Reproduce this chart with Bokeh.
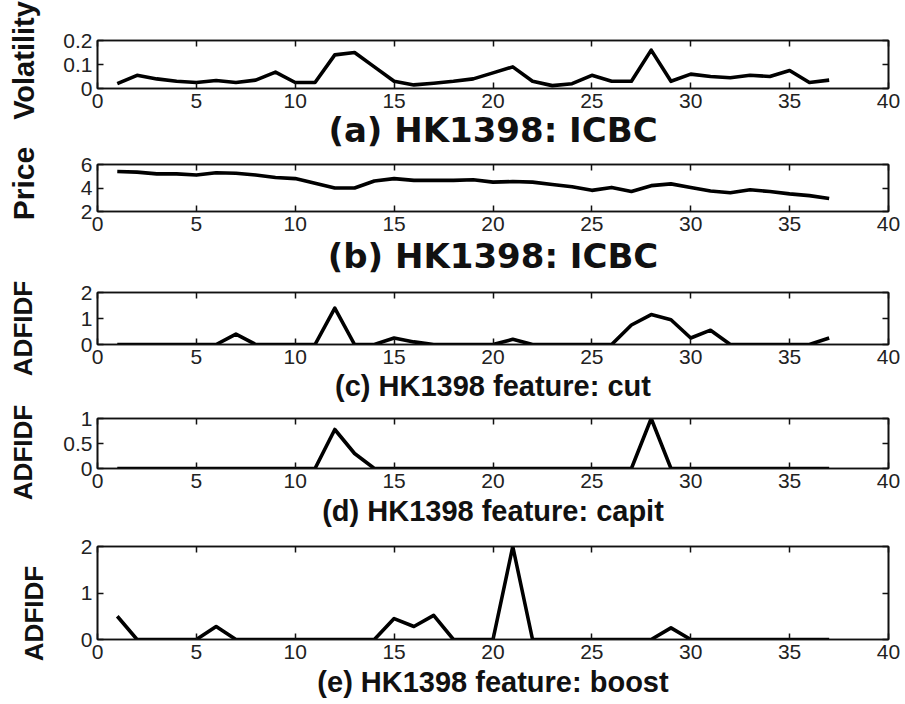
import math
from bokeh.plotting import figure
from bokeh.layouts import column, row
from bokeh.models import Range1d, FixedTicker, LinearAxis, ColumnDataSource
from bokeh.core.properties import value
from bokeh.embed import file_html
from bokeh.resources import INLINE

# ---------------- data ----------------
days = list(range(1, 38))
volatility = [0.02, 0.055, 0.04, 0.03, 0.025, 0.033, 0.025, 0.035, 0.068, 0.025,
              0.025, 0.14, 0.15, 0.09, 0.03, 0.015, 0.022, 0.03, 0.04, 0.065,
              0.09, 0.03, 0.012, 0.02, 0.055, 0.03, 0.03, 0.16, 0.03, 0.06,
              0.05, 0.045, 0.055, 0.05, 0.075, 0.025, 0.035]
price = [5.4, 5.35, 5.2, 5.2, 5.1, 5.3, 5.25, 5.1, 4.9, 4.8,
         4.4, 4.0, 4.0, 4.6, 4.8, 4.65, 4.65, 4.65, 4.7, 4.5,
         4.55, 4.5, 4.3, 4.1, 3.8, 4.05, 3.7, 4.2, 4.35, 4.05,
         3.75, 3.6, 3.85, 3.7, 3.5, 3.35, 3.1]
cut = [0, 0, 0, 0, 0, 0, 0.4, 0, 0, 0,
       0, 1.4, 0, 0, 0.25, 0.1, 0, 0, 0, 0,
       0.2, 0, 0, 0, 0, 0, 0.75, 1.15, 0.95, 0.25,
       0.55, 0, 0, 0, 0, 0, 0.25]
capit = [0, 0, 0, 0, 0, 0, 0, 0, 0, 0,
         0, 0.78, 0.3, 0, 0, 0, 0, 0, 0, 0,
         0, 0, 0, 0, 0, 0, 0, 1.0, 0, 0,
         0, 0, 0, 0, 0, 0, 0]
boost = [0.5, 0, 0, 0, 0, 0.28, 0, 0, 0, 0,
         0, 0, 0, 0, 0.45, 0.28, 0.52, 0, 0, 0,
         2.0, 0, 0, 0, 0, 0, 0, 0, 0.25, 0,
         0, 0, 0, 0, 0, 0, 0]

x_ticks = [0, 5, 10, 15, 20, 25, 30, 35, 40]

vol_ticks = [0, 0.1, 0.2]
vol_tick_labels = ["0", "0.1", "0.2"]
price_ticks = [2, 4, 6]
price_tick_labels = ["2", "4", "6"]
adf2_ticks = [0, 1, 2]
adf2_tick_labels = ["0", "1", "2"]
adf1_ticks = [0, 0.5, 1]
adf1_tick_labels = ["0", "0.5", "1"]

titles = ["(a) HK1398: ICBC", "(b) HK1398: ICBC", "(c) HK1398 feature: cut",
          "(d) HK1398 feature: capit", "(e) HK1398 feature: boost"]
ylabels = ["Volatility", "Price", "ADFIDF", "ADFIDF", "ADFIDF"]

# ---------------- layout / style ----------------
W, H = 905, 704
LABEL_COL = 50          # width of the column holding the rotated y labels
LEFT = 97 - LABEL_COL   # left border of each panel
RIGHT = 17
LIB = "'Liberation Sans', Arial, sans-serif"
DEJAVU = "'DejaVu Sans', sans-serif"
INK = "#111111"


def panel(yvals, yrange, yticks, ytick_labels, title,
          top, frame_h, bottom, title_standoff, title_font, title_size):
    p = figure(width=W - LABEL_COL, height=top + frame_h + bottom,
               x_range=Range1d(0, 40), y_range=Range1d(*yrange),
               output_backend="svg", toolbar_location=None,
               min_border_left=LEFT, min_border_right=RIGHT,
               min_border_top=top, min_border_bottom=bottom)
    p.background_fill_color = "white"
    p.border_fill_color = "white"
    p.outline_line_color = INK
    p.outline_line_width = 1.6
    p.xgrid.visible = False
    p.ygrid.visible = False

    p.xaxis.ticker = FixedTicker(ticks=x_ticks)
    p.yaxis.ticker = FixedTicker(ticks=yticks)
    p.yaxis.major_label_overrides = {t: l for t, l in zip(yticks, ytick_labels)}
    for ax in (p.xaxis, p.yaxis):
        ax.major_tick_in = 6
        ax.major_tick_out = 0
        ax.minor_tick_line_color = None
        ax.axis_line_color = INK
        ax.axis_line_width = 1.6
        ax.major_tick_line_color = INK
        ax.major_tick_line_width = 1.5
        ax.major_label_text_font = LIB
        ax.major_label_text_font_size = "21px"
        ax.major_label_text_color = "#222222"
        ax.major_label_standoff = 5

    # panel caption under the plot (as x-axis label)
    p.xaxis.axis_label = title
    p.xaxis.axis_label_text_font = title_font
    p.xaxis.axis_label_text_font_style = "bold"
    p.xaxis.axis_label_text_font_size = title_size
    p.xaxis.axis_label_text_color = INK
    p.xaxis.axis_label_standoff = title_standoff

    # box-style ticks on top and right (no labels)
    for loc, ticks in (("above", x_ticks), ("right", yticks)):
        ax = LinearAxis(ticker=FixedTicker(ticks=ticks),
                        major_label_text_color=None, major_label_text_font_size="1px",
                        major_tick_in=6, major_tick_out=0, minor_tick_line_color=None,
                        axis_line_color=INK, axis_line_width=1.6,
                        major_tick_line_color=INK, major_tick_line_width=1.5,
                        major_label_standoff=0)
        p.add_layout(ax, loc)

    p.line(days, yvals, line_color="black", line_width=3.6, line_join="round")
    return p


pa = panel(volatility, (0, 0.2), vol_ticks, vol_tick_labels, titles[0],
           40, 49, 63, -1, DEJAVU, "34px")
pb = panel(price, (2, 6), price_ticks, price_tick_labels, titles[1],
           12, 50, 64, 2, DEJAVU, "34px")
pc = panel(cut, (0, 2), adf2_ticks, adf2_tick_labels, titles[2],
           14, 52, 60, 3, LIB, "29px")
pd_ = panel(capit, (0, 1), adf1_ticks, adf1_tick_labels, titles[3],
            14, 51, 60, 4, LIB, "29px")
pe = panel(boost, (0, 2), adf2_ticks, adf2_tick_labels, titles[4],
           17, 93, 65, 4, LIB, "29px")

# ---------------- y-label column (pixel-space canvas, y downwards) ----------------
lab = figure(width=LABEL_COL, height=H, x_range=Range1d(0, LABEL_COL), y_range=Range1d(H, 0),
             output_backend="svg", toolbar_location=None,
             x_axis_location=None, y_axis_location=None,
             min_border=0, min_border_left=0, min_border_right=0,
             min_border_top=0, min_border_bottom=0)
lab.outline_line_color = None
lab.xgrid.visible = False
lab.ygrid.visible = False
lab_src = ColumnDataSource(dict(
    x=[23, 23, 22, 22, 33],
    y=[60, 183, 328, 452, 613],
    text=ylabels,
    size=["29px", "30px", "26px", "26px", "26px"],
))
lab.text(x="x", y="y", text="text", source=lab_src, angle=math.pi / 2,
         text_align="center", text_baseline="middle",
         text_font=value("Liberation Sans"), text_font_style=value("bold"),
         text_font_size="size", text_color=INK)

layout = row(lab, column(pa, pb, pc, pd_, pe, spacing=0), spacing=0)
open("out.html", "w").write(file_html(layout, INLINE))
